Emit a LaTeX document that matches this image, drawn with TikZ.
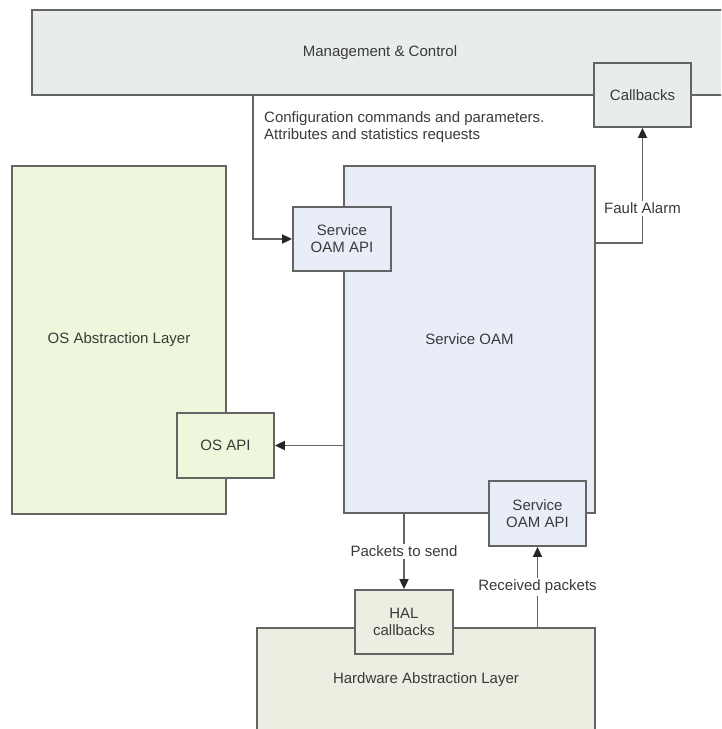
\documentclass[tikz,border=0pt]{standalone}
\usepackage{fontspec}
\setmainfont{Liberation Sans}
\usetikzlibrary{arrows.meta, positioning}

\definecolor{edge}{HTML}{646464}
\definecolor{txt}{HTML}{3A3A3A}
\definecolor{mgmtfill}{HTML}{E9ECEC}
\definecolor{svcfill}{HTML}{E9EDF7}
\definecolor{osfill}{HTML}{EEF6DB}
\definecolor{hwfill}{HTML}{EDEDE2}

\tikzset{
  box/.style={draw=edge, line width=1.8pt, inner sep=0pt, align=center,
    text=txt, font=\fontsize{15}{17}\selectfont},
  arr/.style={draw=edge, line width=1.8pt, -{Triangle[length=10pt,width=9pt,color=black!85]}},
  lbl/.style={fill=white, text=txt, inner sep=2pt, font=\fontsize{15}{17}\selectfont}
}

\begin{document}
\begin{tikzpicture}[x=1pt, y=-1pt]
  \useasboundingbox (0,0) rectangle (721,729);
  \clip (0,0) rectangle (721,729);

  % large blocks
  \node[box, fill=mgmtfill, minimum width=696pt, minimum height=85pt] (mgmt) at (380,52.5) {Management \& Control};
  \node[box, fill=svcfill, minimum width=251pt, minimum height=347pt] (svc) at (469.5,339.5) {Service OAM};
  \node[box, fill=osfill, minimum width=214pt, minimum height=348pt] (osal) at (119,340) {OS Abstraction Layer};
  \node[box, fill=hwfill, minimum width=338pt, minimum height=103pt] (hw) at (426,679.5) {Hardware Abstraction Layer};

  % interface blocks
  \node[box, fill=mgmtfill, minimum width=97pt, minimum height=64pt] (cb) at (642.5,95) {Callbacks};
  \node[box, fill=svcfill, minimum width=98pt, minimum height=64pt] (api1) at (342,239) {Service\\OAM API};
  \node[box, fill=osfill, minimum width=97pt, minimum height=65pt] (osapi) at (225.5,445.5) {OS API};
  \node[box, fill=svcfill, minimum width=97pt, minimum height=65pt] (api2) at (537.5,513.5) {Service\\OAM API};
  \node[box, fill=hwfill, minimum width=98pt, minimum height=64pt] (halcb) at (404,622) {HAL\\callbacks};

  % connectors
  \coordinate (cfg) at (253,95);
  \coordinate (fault) at (595,243);
  \draw[arr] (cfg) |- (api1.west);
  \node[anchor=north west, align=left, inner sep=0pt, text=txt,
    font=\fontsize{15}{17}\selectfont] (cfgtext) at (264,111)
    {Configuration commands and parameters.\\Attributes and statistics requests};

  \draw[arr] (fault) -| (cb.south) node[lbl, pos=0.65] (faultlbl) {Fault Alarm};
  \draw[arr] (svc.west |- osapi) -- (osapi.east);
  \draw[arr] (svc.south -| halcb) -- (halcb.north) node[lbl, midway] (sendlbl) {Packets to send};
  \draw[arr] (hw.north -| api2) -- (api2.south) node[lbl, midway] (recvlbl) {Received packets};
\end{tikzpicture}
\end{document}
